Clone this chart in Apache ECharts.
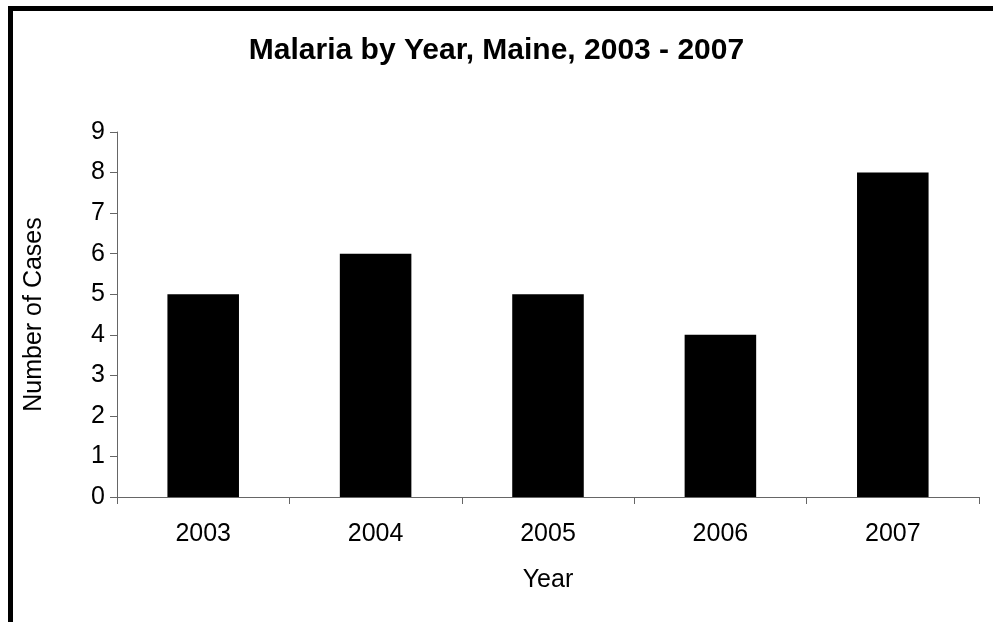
<!DOCTYPE html>
<html>
<head>
<meta charset="utf-8">
<script src="https://cdn.jsdelivr.net/npm/echarts@6/dist/echarts.min.js"></script>
<style>
html,body{margin:0;padding:0;background:#fff;}
#chart{width:993px;height:622px;}
</style>
</head>
<body>
<div id="chart"></div>
<script>
const titleText = 'Malaria by Year, Maine, 2003 - 2007';
const years = ['2003', '2004', '2005', '2006', '2007'];
const cases = [5, 6, 5, 4, 8];
const yTicks = { min: 0, max: 9, interval: 1 };

const chart = echarts.init(document.getElementById('chart'), null, { renderer: 'canvas' });
const font = 'Liberation Sans, Arial, sans-serif';
chart.setOption({
  animation: false,
  backgroundColor: '#fff',
  title: {
    text: titleText,
    left: 'center',
    top: 31,
    textStyle: { fontFamily: font, fontSize: 30, fontWeight: 'bold', color: '#000' }
  },
  graphic: [{
    type: 'rect',
    shape: { x: 10.5, y: 8.5, width: 1100, height: 1000 },
    style: { fill: 'none', stroke: '#000', lineWidth: 5 },
    silent: true
  }],
  grid: { left: 117, right: 14, top: 132, bottom: 125 },
  xAxis: {
    type: 'category',
    data: years,
    name: 'Year',
    nameLocation: 'middle',
    nameGap: 71,
    nameTextStyle: { fontFamily: font, fontSize: 25, color: '#000' },
    axisLine: { lineStyle: { color: '#666', width: 1 } },
    axisTick: { show: true, length: 7, alignWithLabel: false, lineStyle: { color: '#666' } },
    axisLabel: { fontFamily: font, fontSize: 25, color: '#000', margin: 25 },
    splitLine: { show: false }
  },
  yAxis: {
    type: 'value',
    min: yTicks.min,
    max: yTicks.max,
    interval: yTicks.interval,
    name: 'Number of Cases',
    nameLocation: 'middle',
    nameGap: 70,
    nameTextStyle: { fontFamily: font, fontSize: 25, color: '#000' },
    axisLine: { show: true, lineStyle: { color: '#666', width: 1 } },
    axisTick: { show: true, length: 7, lineStyle: { color: '#666' } },
    axisLabel: { fontFamily: font, fontSize: 25, color: '#000', margin: 12 },
    splitLine: { show: false }
  },
  series: [{
    type: 'bar',
    data: cases,
    barWidth: '41.5%',
    itemStyle: { color: '#000' }
  }]
});
</script>
</body>
</html>
